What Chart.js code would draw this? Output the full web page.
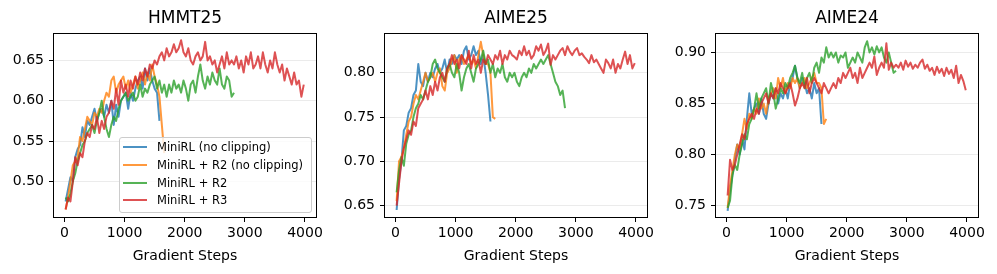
<!DOCTYPE html>
<html><head><meta charset="utf-8">
<script src="https://cdn.jsdelivr.net/npm/chart.js@4"></script>
<style>
html,body{margin:0;padding:0;background:#fff;}
#wrap{position:relative;width:997px;height:274px;overflow:hidden;font-family:"DejaVu Sans",sans-serif;}
.panel{position:absolute;top:0;}
#legend{position:absolute;left:119px;top:137px;width:193px;height:76px;box-sizing:border-box;border:1px solid #cccccc;border-radius:3px;background:rgba(255,255,255,0.8);font-size:11.5px;color:#000;}
.row{position:absolute;left:0;height:14px;line-height:14px;white-space:nowrap;}
.swatch{position:absolute;left:3px;top:6px;width:24px;height:2px;}
.lbl{position:absolute;left:37px;top:0;}
</style></head>
<body>
<div id="wrap">
  <canvas id="c0" class="panel" width="330" height="274" style="left:0px"></canvas>
  <canvas id="c1" class="panel" width="330" height="274" style="left:330px"></canvas>
  <canvas id="c2" class="panel" width="337" height="274" style="left:660px"></canvas>
  <div id="legend"></div>
</div>
<script>
const STEPS = [20,60,100,140,180,220,260,300,340,380,420,460,500,540,580,620,660,700,740,780,
820,860,900,940,980,1020,1060,1100,1140,1180,1220,1260,1300,1340,1380,1420,1460,1500,1540,1580,
1620,1660,1700,1740,1780,1820,1860,1900,1940,1980,2020,2060,2100,2140,2180,2220,2260,2300,2340,2380,
2420,2460,2500,2540,2580,2620,2660,2700,2740,2780,2820,2860,2900,2940,2980,3020,3060,3100,3140,3180,
3220,3260,3300,3340,3380,3420,3460,3500,3540,3580,3620,3660,3700,3740,3780,3820,3860,3900,3940,3980];

const SERIES_NAMES = ['MiniRL (no clipping)', 'MiniRL + R2 (no clipping)', 'MiniRL + R2', 'MiniRL + R3'];
const TITLES = ['HMMT25', 'AIME25', 'AIME24'];
const X_TITLE = 'Gradient Steps';
const X_TICKS = [0, 1000, 2000, 3000, 4000];
const Y_TICKS_HMMT25 = [0.50, 0.55, 0.60, 0.65];
const Y_TICKS_AIME25 = [0.65, 0.70, 0.75, 0.80];
const Y_TICKS_AIME24 = [0.75, 0.80, 0.85, 0.90];

// HMMT25
const HMMT25_NOCLIP = [0.475,0.49,0.505,0.50,0.53,0.54,0.545,0.567,0.555,0.575,0.57,0.58,0.59,0.575,0.585,0.59,0.58,0.595,0.585,0.60,
0.57,0.595,0.58,0.60,0.605,0.61,0.59,0.61,0.60,0.615,0.625,0.63,0.615,0.64,0.625,0.64,0.625,0.615,0.61,0.575];
const HMMT25_R2_NOCLIP = [0.465,0.48,0.50,0.52,0.525,0.53,0.555,0.55,0.565,0.58,0.575,0.57,0.585,0.58,0.59,0.585,0.60,0.61,0.605,0.625,
0.63,0.61,0.62,0.625,0.63,0.615,0.625,0.61,0.62,0.63,0.615,0.625,0.635,0.62,0.635,0.625,0.645,0.63,0.62,0.605,0.57,0.535];
const HMMT25_R2 = [0.48,0.475,0.485,0.50,0.51,0.525,0.535,0.545,0.55,0.56,0.565,0.57,0.56,0.575,0.585,0.60,0.58,0.565,0.555,0.57,
0.58,0.575,0.59,0.60,0.605,0.61,0.60,0.605,0.61,0.60,0.605,0.62,0.605,0.615,0.61,0.62,0.625,0.63,0.615,0.625,
0.61,0.62,0.605,0.62,0.61,0.625,0.615,0.62,0.61,0.625,0.615,0.60,0.62,0.625,0.61,0.63,0.645,0.625,0.615,0.63,
0.62,0.635,0.625,0.62,0.64,0.62,0.615,0.63,0.625,0.605,0.61];
const HMMT25_R3 = [0.465,0.48,0.475,0.50,0.53,0.52,0.535,0.53,0.55,0.56,
0.555,0.57,0.565,0.58,0.56,0.575,0.565,0.58,0.585,0.60,
0.59,0.615,0.595,0.625,0.61,0.62,0.605,0.625,0.615,0.63,
0.62,0.635,0.625,0.64,0.63,0.645,0.64,0.65,0.645,0.655,
0.66,0.65,0.665,0.655,0.66,0.67,0.66,0.665,0.675,0.66,
0.655,0.665,0.65,0.645,0.655,0.66,0.65,0.655,0.673,0.65,
0.655,0.645,0.65,0.635,0.645,0.655,0.64,0.66,0.645,0.65,
0.645,0.655,0.64,0.65,0.635,0.655,0.645,0.66,0.64,0.645,
0.655,0.64,0.66,0.645,0.635,0.65,0.64,0.66,0.645,0.635,
0.645,0.625,0.64,0.63,0.62,0.635,0.62,0.625,0.605,0.62];

// AIME25
const AIME25_NOCLIP = [0.645,0.68,0.70,0.735,0.74,0.755,0.76,0.775,0.78,0.81,0.79,0.785,0.80,0.79,0.80,0.795,0.805,0.81,0.80,0.805,
0.815,0.80,0.815,0.81,0.82,0.815,0.82,0.81,0.825,0.83,0.815,0.82,0.83,0.82,0.825,0.81,0.82,0.80,0.775,0.745];
const AIME25_R2_NOCLIP = [0.655,0.70,0.705,0.715,0.73,0.745,0.75,0.765,0.775,0.77,0.78,0.79,0.80,0.79,0.795,0.80,0.79,0.80,0.805,0.785,
0.78,0.80,0.805,0.815,0.82,0.80,0.815,0.82,0.81,0.815,0.82,0.81,0.815,0.805,0.82,0.835,0.82,0.81,0.81,0.80,0.75,0.748];
const AIME25_R2 = [0.665,0.69,0.705,0.695,0.72,0.73,0.735,0.75,0.76,0.765,0.775,0.77,0.78,0.79,0.795,0.81,0.815,0.805,0.80,0.795,
0.79,0.805,0.81,0.80,0.795,0.81,0.80,0.78,0.795,0.805,0.81,0.80,0.79,0.805,0.81,0.815,0.825,0.81,0.815,0.80,
0.81,0.795,0.805,0.80,0.81,0.795,0.79,0.80,0.795,0.80,0.79,0.785,0.795,0.80,0.795,0.805,0.80,0.81,0.805,0.81,
0.815,0.81,0.815,0.82,0.81,0.80,0.79,0.785,0.775,0.78,0.76];
const AIME25_R3 = [0.65,0.675,0.70,0.715,0.725,0.735,0.73,0.745,0.74,0.76,
0.765,0.77,0.78,0.77,0.785,0.775,0.79,0.78,0.795,0.80,
0.79,0.805,0.81,0.82,0.81,0.815,0.805,0.82,0.815,0.81,
0.825,0.805,0.82,0.81,0.815,0.80,0.815,0.81,0.82,0.815,
0.81,0.82,0.815,0.825,0.81,0.82,0.815,0.825,0.82,0.818,
0.815,0.825,0.82,0.83,0.82,0.825,0.816,0.82,0.83,0.825,
0.832,0.82,0.825,0.833,0.809,0.82,0.815,0.82,0.825,0.828,
0.82,0.83,0.824,0.82,0.825,0.828,0.82,0.822,0.818,0.815,
0.811,0.82,0.812,0.815,0.81,0.805,0.80,0.815,0.811,0.805,
0.815,0.80,0.81,0.805,0.815,0.824,0.81,0.82,0.805,0.811];

// AIME24
const AIME24_NOCLIP = [0.745,0.765,0.78,0.795,0.81,0.80,0.815,0.805,0.835,0.86,0.84,0.845,0.85,0.84,0.855,0.84,0.835,0.85,0.86,0.855,
0.865,0.85,0.86,0.855,0.865,0.855,0.87,0.875,0.887,0.875,0.865,0.875,0.87,0.86,0.865,0.855,0.87,0.86,0.865,0.83];
const AIME24_R2_NOCLIP = [0.748,0.77,0.785,0.80,0.81,0.805,0.82,0.835,0.825,0.84,0.835,0.845,0.84,0.855,0.845,0.85,0.84,0.855,0.86,0.865,
0.855,0.875,0.865,0.875,0.86,0.87,0.865,0.875,0.87,0.875,0.865,0.87,0.875,0.865,0.87,0.875,0.88,0.87,0.87,0.865,0.83,0.835];
const AIME24_R2 = [0.748,0.755,0.78,0.79,0.785,0.80,0.81,0.82,0.815,0.83,0.835,0.845,0.86,0.845,0.855,0.86,0.865,0.85,0.87,0.86,
0.845,0.855,0.865,0.86,0.87,0.865,0.875,0.88,0.887,0.875,0.87,0.88,0.865,0.875,0.88,0.87,0.885,0.89,0.88,0.895,
0.89,0.905,0.895,0.90,0.895,0.90,0.89,0.897,0.895,0.90,0.885,0.89,0.895,0.89,0.90,0.895,0.89,0.905,0.911,0.90,
0.905,0.898,0.906,0.90,0.905,0.895,0.89,0.90,0.89,0.88,0.882];
const AIME24_R3 = [0.76,0.795,0.785,0.79,0.80,0.81,0.82,0.815,0.83,0.835,
0.84,0.835,0.845,0.84,0.85,0.855,0.86,0.85,0.86,0.855,
0.865,0.86,0.87,0.865,0.86,0.865,0.87,0.86,0.848,0.855,
0.865,0.87,0.865,0.875,0.86,0.87,0.875,0.87,0.865,0.86,
0.87,0.865,0.86,0.865,0.87,0.865,0.875,0.87,0.88,0.875,
0.88,0.885,0.875,0.88,0.87,0.885,0.875,0.88,0.885,0.89,
0.885,0.896,0.878,0.885,0.89,0.885,0.909,0.883,0.89,0.885,
0.888,0.885,0.89,0.883,0.892,0.886,0.89,0.884,0.888,0.885,
0.89,0.893,0.884,0.888,0.882,0.885,0.878,0.886,0.88,0.884,
0.877,0.885,0.879,0.883,0.875,0.887,0.87,0.878,0.872,0.863];

const COLORS = ['rgba(31,119,180,0.8)', 'rgba(255,127,14,0.8)', 'rgba(44,160,44,0.8)', 'rgba(214,39,40,0.8)'];
const FONT = 'DejaVu Sans';

const PANELS = [
  { id: 'c0', title: TITLES[0], series: [HMMT25_NOCLIP, HMMT25_R2_NOCLIP, HMMT25_R2, HMMT25_R3], yMin: 0.4545, yMax: 0.684, yTicks: Y_TICKS_HMMT25, yW: 53, padR: 13 },
  { id: 'c1', title: TITLES[1], series: [AIME25_NOCLIP, AIME25_R2_NOCLIP, AIME25_R2, AIME25_R3], yMin: 0.636, yMax: 0.845, yTicks: Y_TICKS_AIME25, yW: 54, padR: 12 },
  { id: 'c2', title: TITLES[2], series: [AIME24_NOCLIP, AIME24_R2_NOCLIP, AIME24_R2, AIME24_R3], yMin: 0.738, yMax: 0.919, yTicks: Y_TICKS_AIME24, yW: 55, padR: 18 }
];

const framePlugin = {
  id: 'frame',
  afterDraw(chart, args, opts) {
    const ctx = chart.ctx, a = chart.chartArea;
    ctx.save();
    ctx.strokeStyle = '#000';
    ctx.lineWidth = 1;
    ctx.strokeRect(a.left + 0.5, a.top + 0.5, a.right - a.left - 1, a.bottom - a.top - 1);
    ctx.fillStyle = '#000';
    ctx.font = '17px "' + FONT + '"';
    ctx.textAlign = 'center';
    ctx.textBaseline = 'middle';
    ctx.fillText(opts.title, (a.left + a.right) / 2, 19);
    ctx.restore();
  }
};

PANELS.forEach(p => {
  const datasets = p.series.map((vals, i) => ({
    label: SERIES_NAMES[i],
    data: vals.map((v, k) => ({ x: STEPS[k], y: v })),
    borderColor: COLORS[i],
    backgroundColor: COLORS[i],
    borderWidth: 2,
    pointRadius: 0,
    tension: 0,
    fill: false,
    order: 3 - i,
    borderJoinStyle: 'round',
    borderCapStyle: 'butt'
  }));
  new Chart(document.getElementById(p.id), {
    type: 'line',
    data: { datasets },
    plugins: [framePlugin],
    options: {
      responsive: false,
      animation: false,
      devicePixelRatio: 1,
      layout: { padding: { left: 0, right: p.padR, top: 33, bottom: 0 } },
      plugins: {
        legend: { display: false },
        tooltip: { enabled: false },
        title: { display: false },
        frame: { title: p.title }
      },
      scales: {
        x: {
          type: 'linear',
          min: -190, max: 4200,
          afterBuildTicks: s => { s.ticks = X_TICKS.map(v => ({ value: v })); },
          afterFit: s => { s.height = 56; },
          border: { display: false },
          grid: { drawOnChartArea: false, drawTicks: true, tickLength: 4, tickColor: '#000', tickWidth: 1 },
          ticks: { color: '#000', font: { family: FONT, size: 14 }, padding: 3, maxRotation: 0, autoSkip: false, callback: v => String(v) },
          title: { display: true, text: X_TITLE, color: '#000', font: { family: FONT, size: 14 }, padding: { top: 0, bottom: 9 } }
        },
        y: {
          type: 'linear',
          min: p.yMin, max: p.yMax,
          afterBuildTicks: s => { s.ticks = p.yTicks.map(v => ({ value: v })); },
          afterFit: s => { s.width = p.yW; },
          border: { display: false },
          grid: { color: '#ebebeb', lineWidth: 1, drawTicks: true, tickLength: 4, tickColor: '#000', tickWidth: 1 },
          ticks: { color: '#000', font: { family: FONT, size: 14 }, padding: 5, autoSkip: false, callback: v => Number(v).toFixed(2) }
        }
      }
    }
  });
});

// legend (panel 1)
const legend = document.getElementById('legend');
const ROW_CENTERS = [9, 26.5, 44.5, 62];
SERIES_NAMES.forEach((name, i) => {
  const row = document.createElement('div');
  row.className = 'row';
  row.style.top = (ROW_CENTERS[i] - 7) + 'px';
  row.style.width = '190px';
  const sw = document.createElement('div');
  sw.className = 'swatch';
  sw.style.background = COLORS[i];
  const lb = document.createElement('div');
  lb.className = 'lbl';
  lb.textContent = name;
  row.appendChild(sw); row.appendChild(lb);
  legend.appendChild(row);
});
</script>
</body></html>
